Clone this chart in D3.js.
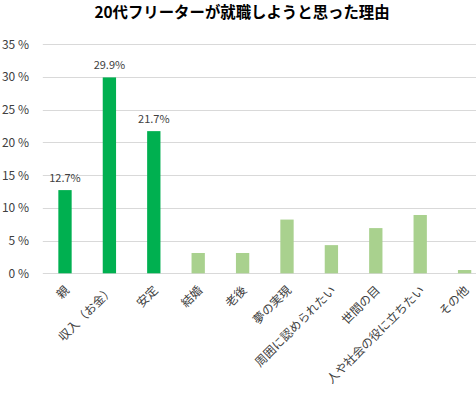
<!DOCTYPE html>
<html>
<head>
<meta charset="utf-8">
<script src="https://cdn.jsdelivr.net/npm/d3@7"></script>
<style>
  body { margin: 0; background: #fff; }
  text { font-family: "Noto Sans CJK JP", "Noto Sans", sans-serif; }
</style>
</head>
<body>
<div id="plot"></div>
<script>
const categories = ["親", "収入（お金）", "安定", "結婚", "老後", "夢の実現", "周囲に認められたい", "世間の目", "人や社会の役に立ちたい", "その他"];
const values = [12.7, 29.9, 21.7, 3.1, 3.1, 8.2, 4.3, 6.9, 8.9, 0.5];
const highlighted = [true, true, true, false, false, false, false, false, false, false];
const yTicks = [0, 5, 10, 15, 20, 25, 30, 35];

const W = 476, H = 393;
const svg = d3.select("#plot").append("svg")
  .attr("width", W).attr("height", H);

const x = d3.scaleBand().domain(categories).range([42.8, 486.8]).paddingInner(0.7).paddingOuter(0.35);
const y = d3.scaleLinear().domain([0, 35]).range([273.3, 44]);

// title
svg.append("text")
  .attr("x", 242).attr("y", 18)
  .attr("text-anchor", "middle")
  .attr("font-size", 15.4).attr("font-weight", "bold")
  .attr("fill", "#000")
  .text("20代フリーターが就職しようと思った理由");

// gridlines
svg.append("g").selectAll("line").data(yTicks).join("line")
  .attr("x1", 42.8).attr("x2", W)
  .attr("y1", d => Math.round(y(d)) + 0.5).attr("y2", d => Math.round(y(d)) + 0.5)
  .attr("stroke", "#d9d9d9").attr("stroke-width", 1);

// y axis labels
svg.append("g").selectAll("text").data(yTicks).join("text")
  .attr("x", 29).attr("y", d => y(d) + 4.5)
  .attr("text-anchor", "end")
  .attr("font-size", 12).attr("fill", "#404040")
  .text(d => d + " %");

// bars
svg.append("g").selectAll("rect").data(values).join("rect")
  .attr("x", (d, i) => x(categories[i]))
  .attr("width", x.bandwidth())
  .attr("y", d => y(d))
  .attr("height", d => y(0) - y(d))
  .attr("fill", (d, i) => highlighted[i] ? "#00b050" : "#a9d18e");

// data labels for highlighted bars
svg.append("g").selectAll("text").data(values.map((v, i) => ({v, i})).filter(d => highlighted[d.i])).join("text")
  .attr("x", d => x(categories[d.i]) + x.bandwidth() / 2)
  .attr("y", d => y(d.v) - 8)
  .attr("text-anchor", "middle")
  .attr("font-size", 11).attr("fill", "#404040")
  .text(d => d.v.toFixed(1) + "%");

// category labels
svg.append("g").selectAll("text").data(categories).join("text")
  .attr("transform", d => `translate(${x(d) + x.bandwidth() / 2 + 5},${291}) rotate(-45)`)
  .attr("text-anchor", "end")
  .attr("font-size", 12).attr("fill", "#404040")
  .text(d => d);
</script>
</body>
</html>
